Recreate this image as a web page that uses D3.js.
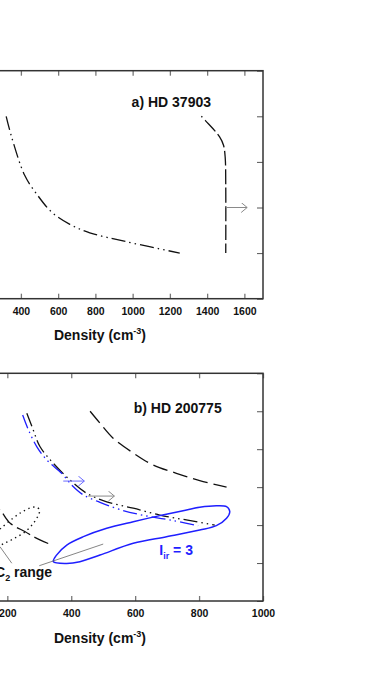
<!DOCTYPE html>
<html>
<head>
<meta charset="utf-8">
<script src="https://cdn.jsdelivr.net/npm/d3@7"></script>
<style>
  body { margin: 0; background: #fff; }
  svg { display: block; font-family: "Liberation Sans", Arial, Helvetica, sans-serif; }
</style>
</head>
<body>
<svg width="368" height="693"></svg>
<script>
// panel a) HD 37903
const densityTicksA = [0, 200, 400, 600, 800, 1000, 1200, 1400, 1600]
const tempTicksA = [0, 20, 40, 60, 80, 100]
const curveA1 = [[321, 80], [350, 71], [421, 54], [484, 46], [565, 38], [663, 32.6], [770, 28.9], [967, 25], [1253, 20]]
const curveA2 = [[1369, 80], [1392, 78], [1467, 71], [1488, 67.3], [1497, 62], [1500, 50], [1500, 20]]
const arrowA = [[1500, 40], [1615, 40]]

// panel b) HD 200775
const densityTicksB = [0, 200, 400, 600, 800, 1000]
const tempTicksB = [0, 20, 40, 60, 80, 100, 120]
const curveB1 = [[459, 100], [490, 93.7], [531, 85.8], [594, 78], [656, 71.7], [729, 67.3], [802, 63.4], [886, 60]]
const curveB2 = [[261, 99], [281, 90.2], [302, 81.4], [344, 72.6], [396, 63.8], [448, 56.8], [511, 52.3], [594, 48.9], [677, 45.3], [760, 42.7], [849, 40]]
const curveB3 = [[248, 98], [266, 90.2], [292, 81.4], [323, 74.4], [370, 67.3], [401, 61.2], [437, 56], [490, 52], [552, 48.2], [636, 44.8], [719, 42.4], [797, 39.7]]
const curveB4 = [[140, 53], [177, 48], [209, 41], [256, 36.5], [282, 33.9], [332, 30]]
const loopB = [[344, 20.7], [386, 19.8], [427, 20.7], [490, 24.2], [594, 30.4], [698, 33.9], [802, 37.4], [854, 39.7], [886, 43.6], [896, 47.1], [886, 49.7], [854, 50.2], [802, 49.4], [750, 47.6], [677, 45], [594, 41.8], [511, 38.3], [438, 33.9], [386, 29.5], [354, 24.2]]
const dottedLoopB = [[152, 34.3], [177, 37.9], [218, 43.7], [246, 46.9], [271, 49], [290, 49.5], [301, 48], [296, 44.8], [280, 40.6], [255, 36.4], [224, 33.2], [193, 30.6], [152, 27.9]]
const arrowB1 = [[375, 63.2], [441, 63.2]]
const arrowB2 = [[453, 55.3], [535, 55.3]]
const pointerB = [[[177, 28.6], [214, 19.9]], [[300, 18.6], [500, 30]]]

const svg = d3.select('svg')
const BLUE = '#1f1fff'
const GREY = '#8a8a8a'
const DDD = '14,4,1.5,4,1.5,4'

const defs = svg.append('defs')
function addMarker(id, color) {
    defs.append('marker')
        .attr('id', id)
        .attr('markerUnits', 'userSpaceOnUse')
        .attr('markerWidth', 12).attr('markerHeight', 12)
        .attr('refX', 6).attr('refY', 5)
        .attr('orient', 'auto')
        .append('path')
        .attr('d', 'M0,0 L6,5 L0,10')
        .style('fill', 'none')
        .style('stroke', color)
        .style('stroke-width', 1)
}
addMarker('arrGrey', GREY)
addMarker('arrBlue', '#6a6aff')

function panel(cfg) {
    const x = d3.scaleLinear().domain(cfg.xDomain).range([cfg.left, cfg.right])
    const y = d3.scaleLinear().domain(cfg.yDomain).range([cfg.bottom, cfg.top])
    const g = svg.append('g')

    // only ticks whose label lands inside the window get a label
    const fmt = d => (x(d) - 12 < 0 && x(d) + 8 < 0) ? '' : d3.format('d')(d)

    g.append('g')
        .attr('transform', `translate(0,${cfg.bottom})`)
        .call(d3.axisBottom(x).tickValues(cfg.xTicks).tickSizeInner(-5).tickSizeOuter(0).tickPadding(8.5).tickFormat(fmt))
        .call(a => a.select('.domain').remove())
        .call(a => a.selectAll('line').style('stroke', '#777').style('stroke-width', 1.3))
        .call(a => a.selectAll('text').style('font-size', '10.5px').style('font-weight', 'bold').style('fill', '#111'))
    g.append('g')
        .attr('transform', `translate(0,${cfg.top})`)
        .call(d3.axisTop(x).tickValues(cfg.xTicks).tickSizeInner(-5).tickSizeOuter(0).tickFormat(''))
        .call(a => a.select('.domain').remove())
        .call(a => a.selectAll('line').style('stroke', '#777').style('stroke-width', 1.3))
    g.append('g')
        .attr('transform', `translate(${cfg.right},0)`)
        .call(d3.axisRight(y).tickValues(cfg.yTicks).tickSizeInner(-6).tickSizeOuter(0).tickFormat(''))
        .call(a => a.select('.domain').remove())
        .call(a => a.selectAll('line').style('stroke', '#555').style('stroke-width', 1))

    g.append('rect')
        .attr('x', cfg.left).attr('y', cfg.top)
        .attr('width', cfg.right - cfg.left).attr('height', cfg.bottom - cfg.top)
        .style('fill', 'none').style('stroke', '#333').style('stroke-width', 1.5)

    g.append('text')
        .attr('x', cfg.titleX).attr('y', cfg.titleY)
        .attr('text-anchor', 'end')
        .style('font-size', '14px').style('font-weight', 'bold').style('fill', '#111')
        .text(cfg.title)

    const xl = g.append('text')
        .attr('x', 100).attr('y', cfg.bottom + 41.5)
        .attr('text-anchor', 'middle')
        .style('font-size', '14px').style('font-weight', 'bold').style('fill', '#111')
    xl.append('tspan').text('Density (cm')
    xl.append('tspan').attr('dy', -6).style('font-size', '9px').text('-3')
    xl.append('tspan').attr('dy', 6).text(')')

    return { x, y, g }
}

function drawCurve(p, pts, opts) {
    const line = d3.line()
        .x(d => p.x(d[0])).y(d => p.y(d[1]))
        .curve(opts.closed ? d3.curveCatmullRomClosed.alpha(0.5) : d3.curveCatmullRom.alpha(0.5))
    p.g.append('path')
        .attr('d', line(pts))
        .style('fill', 'none')
        .style('stroke', opts.color || '#111')
        .style('stroke-width', opts.width || 1.3)
        .style('stroke-dasharray', opts.dash || null)
        .style('stroke-linecap', opts.cap || 'butt')
}

function drawArrow(p, pts, color, marker) {
    p.g.append('line')
        .attr('x1', p.x(pts[0][0])).attr('y1', p.y(pts[0][1]))
        .attr('x2', p.x(pts[1][0])).attr('y2', p.y(pts[1][1]))
        .style('stroke', color).style('stroke-width', 1)
        .attr('marker-end', `url(#${marker})`)
}

// ---- panel a
const pa = panel({
    xDomain: [0, 1700], yDomain: [0, 100],
    left: -53.6, right: 263, top: 70.7, bottom: 298.7,
    xTicks: densityTicksA, yTicks: tempTicksA,
    title: 'a) HD 37903', titleX: 211, titleY: 107.3
})
drawCurve(pa, curveA1, { dash: DDD })
drawCurve(pa, curveA2, { dash: '1.5,4,15,3.5,15,3.5,15,3.5,15,3.5,15,3.5,15,3.5,15,3.5,15,3.5,15,3.5,15,3.5,15,3.5' })
drawArrow(pa, arrowA, GREY, 'arrGrey')

// ---- panel b
const pb = panel({
    xDomain: [0, 1000], yDomain: [0, 120],
    left: -56.6, right: 263, top: 373.3, bottom: 601,
    xTicks: densityTicksB, yTicks: tempTicksB,
    title: 'b) HD 200775', titleX: 221.7, titleY: 413.3
})
drawCurve(pb, curveB1, { dash: '15,6' })
drawCurve(pb, curveB4, { dash: '15,5' })
drawCurve(pb, dottedLoopB, { closed: true, dash: '1.4,3.6', width: 1.4 })
drawCurve(pb, curveB2, { dash: DDD })
drawCurve(pb, curveB3, { dash: DDD, color: BLUE })
drawCurve(pb, loopB, { closed: true, color: BLUE, width: 1.5 })
drawArrow(pb, arrowB1, '#6a6aff', 'arrBlue')
drawArrow(pb, arrowB2, GREY, 'arrGrey')

pointerB.forEach(seg => {
    pb.g.append('line')
        .attr('x1', pb.x(seg[0][0])).attr('y1', pb.y(seg[0][1]))
        .attr('x2', pb.x(seg[1][0])).attr('y2', pb.y(seg[1][1]))
        .style('stroke', '#666').style('stroke-width', 0.8)
})

const c2 = pb.g.append('text')
    .attr('x', -5).attr('y', 577)
    .style('font-size', '14px').style('font-weight', 'bold').style('fill', '#111')
c2.append('tspan').text('C')
c2.append('tspan').attr('dy', 4).style('font-size', '9px').text('2')
c2.append('tspan').attr('dy', -4).text(' range')

const lir = pb.g.append('text')
    .attr('x', 159.3).attr('y', 555)
    .style('font-size', '14px').style('font-weight', 'bold').style('fill', BLUE)
lir.append('tspan').text('I')
lir.append('tspan').attr('dy', 4).style('font-size', '9px').text('ir')
lir.append('tspan').attr('dy', -4).text(' = 3')
</script>
</body>
</html>
